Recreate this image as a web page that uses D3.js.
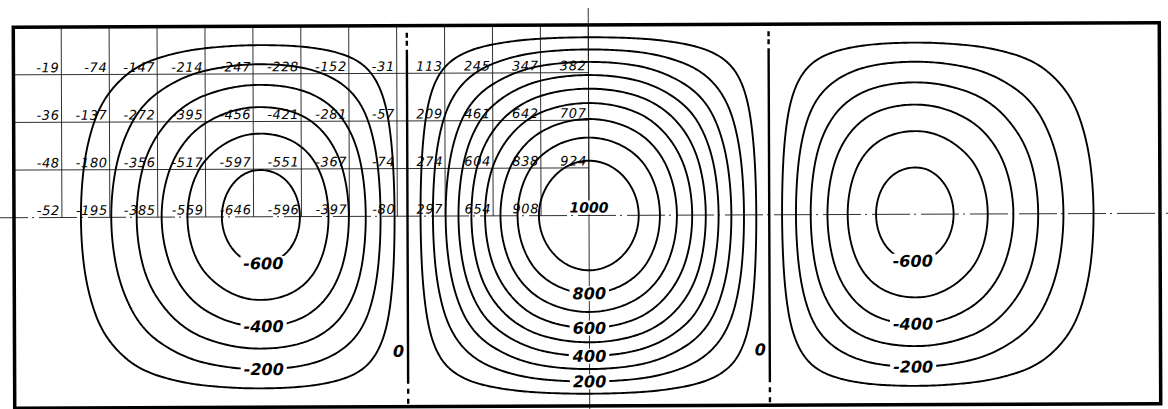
<!DOCTYPE html>
<html>
<head>
<meta charset="utf-8">
<script src="https://cdn.jsdelivr.net/npm/d3@7"></script>
<style>
  html, body { margin: 0; padding: 0; background: #fff; }
  svg { display: block; }
  .node-val { font-family: "DejaVu Sans", sans-serif; font-style: oblique; font-size: 13px; letter-spacing: 0.6px; fill: #000; }
  .lvl { font-family: "DejaVu Sans", sans-serif; font-style: oblique; font-weight: bold; font-size: 16px; fill: #000; }
  .peak { font-family: "DejaVu Sans", sans-serif; font-style: oblique; font-weight: bold; font-size: 14px; fill: #000; }
</style>
</head>
<body>
<svg id="chart" width="1168" height="409"></svg>
<script>
// Nodal values of the upper-left quarter: rows run from the top edge down to the
// mid-line, columns from the left edge across to the centre line.
const row1 = [-19, -74, -147, -214, -247, -228, -152, -31, 113, 245, 347, 382];
const row2 = [-36, -137, -272, -395, -456, -421, -281, -57, 209, 461, 642, 707];
const row3 = [-48, -180, -356, -517, -597, -551, -367, -74, 274, 604, 838, 924];
const row4 = [-52, -195, -385, -559, -646, -596, -397, -80, 297, 654, 908, 1000];
const quarterRows = [row1, row2, row3, row4];

// Contour levels
const positiveLevels = [100, 200, 300, 400, 500, 600, 700, 800, 900];
const negativeLevels = [-100, -200, -300, -400, -500, -600];
const labelledPositive = [200, 400, 600, 800];
const labelledNegative = [-200, -400, -600];

// Plate: 24 x 8 grid intervals, symmetric about both centre lines
const NC = 24, NR = 8;
const x = d3.scaleLinear().domain([0, 12, 24]).range([14, 589, 1160]);
const y = d3.scaleLinear().domain([0, 8]).range([25, 406]);

// Node value (r, c) on the full plate, zero on the boundary, mirrored quarters
function node(r, c) {
  if (r < 0) return -node(-r, c);
  if (r > NR) return -node(2 * NR - r, c);
  if (c < 0) return -node(r, -c);
  if (c > NC) return -node(r, 2 * NC - c);
  if (r === 0 || r === NR || c === 0 || c === NC) return 0;
  const rr = r > 4 ? NR - r : r;
  const cc = c > 12 ? NC - c : c;
  return quarterRows[rr - 1][cc - 1];
}

// Catmull-Rom bicubic surface through the nodal values
function cr(p0, p1, p2, p3, t) {
  return 0.5 * (2 * p1 + (-p0 + p2) * t + (2 * p0 - 5 * p1 + 4 * p2 - p3) * t * t +
    (-p0 + 3 * p1 - 3 * p2 + p3) * t * t * t);
}
function surface(u, v) {
  let c = Math.floor(u), r = Math.floor(v);
  if (c >= NC) c = NC - 1; if (r >= NR) r = NR - 1;
  const tx = u - c, ty = v - r;
  const rows = [];
  for (let j = -1; j <= 2; j++) {
    rows.push(cr(node(r + j, c - 1), node(r + j, c), node(r + j, c + 1), node(r + j, c + 2), tx));
  }
  return cr(rows[0], rows[1], rows[2], rows[3], ty);
}

// Sample the surface for contouring
const N = 20;
const nx = NC * N + 1, ny = NR * N + 1;
const values = new Float64Array(nx * ny);
for (let j = 0; j < ny; j++) for (let i = 0; i < nx; i++) values[j * nx + i] = surface(i / N, j / N);
const negValues = values.map(v => -v);

const posContours = d3.contours().size([nx, ny]).thresholds(positiveLevels)(values);
const negContours = d3.contours().size([nx, ny]).thresholds(negativeLevels.map(v => -v))(negValues);

const toPx = p => [x((p[0] - 0.5) / N), y((p[1] - 0.5) / N)];
function ringsPath(geom) {
  let d = "";
  geom.coordinates.forEach(poly => poly.forEach(ring => {
    ring.forEach((p, k) => { const q = toPx(p); d += (k ? "L" : "M") + q[0].toFixed(2) + "," + q[1].toFixed(2); });
    d += "Z";
  }));
  return d;
}

const svg = d3.select("#chart");
const g = svg.append("g").attr("transform", "rotate(-0.22,587,215)");

// Tabulation grid in the upper-left quarter
const grid = g.append("g").attr("stroke", "#1a1a1a").attr("stroke-width", 0.9).attr("fill", "none");
d3.range(1, 13).forEach(c => grid.append("line").attr("x1", x(c)).attr("x2", x(c)).attr("y1", y(0)).attr("y2", y(4)));
d3.range(1, 4).forEach(r => grid.append("line").attr("x1", x(0)).attr("x2", x(12)).attr("y1", y(r)).attr("y2", y(r)));

// Centre lines
g.append("line").attr("x1", -10).attr("x2", 1180).attr("y1", y(4)).attr("y2", y(4))
  .attr("stroke", "#1a1a1a").attr("stroke-width", 0.9).attr("stroke-dasharray", "38,4,2,5");
g.append("line").attr("x1", x(12)).attr("x2", x(12)).attr("y1", 8).attr("y2", 415)
  .attr("stroke", "#1a1a1a").attr("stroke-width", 0.9);

// Contour lines
const lines = g.append("g").attr("fill", "none").attr("stroke", "#000").attr("stroke-width", 1.9).attr("stroke-linejoin", "round");
posContours.forEach(cn => lines.append("path").attr("d", ringsPath(cn)));
negContours.forEach(cn => lines.append("path").attr("d", ringsPath(cn)));

// Zero lines between the panels, from the sign change along the mid-row
const zc = 8 + (0 - row4[7]) / (row4[8] - row4[7]);
const L = y(NR) - y(0);
const zeroDash = [0, 7, 5, 3, 5, 4, L - 24 - 23, 5, 5, 5, 5, 3].join(",");
[zc, NC - zc].forEach(u => {
  g.append("line").attr("x1", x(u)).attr("x2", x(u)).attr("y1", y(0)).attr("y2", y(NR))
    .attr("stroke", "#000").attr("stroke-width", 2.4).attr("stroke-dasharray", zeroDash);
  g.append("text").attr("class", "lvl").attr("text-anchor", "end")
    .attr("x", x(u) - 4).attr("y", y(6.95)).text("0");
});

// Border
g.append("rect").attr("x", x(0)).attr("y", y(0)).attr("width", x(NC) - x(0)).attr("height", y(NR) - y(0))
  .attr("fill", "none").attr("stroke", "#000").attr("stroke-width", 3.5);

// Nodal values
const vals = g.append("g");
quarterRows.forEach((row, ri) => row.forEach((v, ci) => {
  const r = ri + 1, c = ci + 1;
  if (r === 4 && c === 12) return;
  vals.append("text").attr("class", "node-val").attr("text-anchor", "end")
    .attr("x", x(c) - 2).attr("y", y(r) - 2.5).text(v);
}));

// Label with a white knock-out behind it
function knockLabel(cls, px, py, txt, padX, padY) {
  const grp = g.append("g");
  const rect = grp.append("rect").attr("fill", "#fff");
  const t = grp.append("text").attr("class", cls).attr("text-anchor", "middle")
    .attr("x", px).attr("y", py).attr("dy", "0.36em").text(txt);
  const b = t.node().getBBox();
  rect.attr("x", b.x - padX).attr("y", b.y + padY).attr("width", b.width + 2 * padX).attr("height", b.height - 2 * padY);
}

// Where a level crosses a column in the lower half of the plate
function lowerCrossing(u, level) {
  let prev = surface(u, 4) - level;
  for (let v = 4.005; v <= NR; v += 0.005) {
    const cur = surface(u, v) - level;
    if ((prev < 0) !== (cur < 0)) return v - 0.005 * cur / (cur - prev);
    prev = cur;
  }
  return null;
}

const sideCol = 5.2;
labelledNegative.forEach(lv => {
  [sideCol, NC - sideCol].forEach(u => {
    const v = lowerCrossing(u, lv);
    knockLabel("lvl", x(u), y(v), String(lv), 3, 2);
  });
});
labelledPositive.forEach(lv => {
  const v = lowerCrossing(12, lv);
  knockLabel("lvl", x(12), y(v), String(lv), 3, 2);
});

// Peak value at the centre node
knockLabel("peak", x(12), y(4) - 8, String(row4[11]), 1, 1);
</script>
</body>
</html>
